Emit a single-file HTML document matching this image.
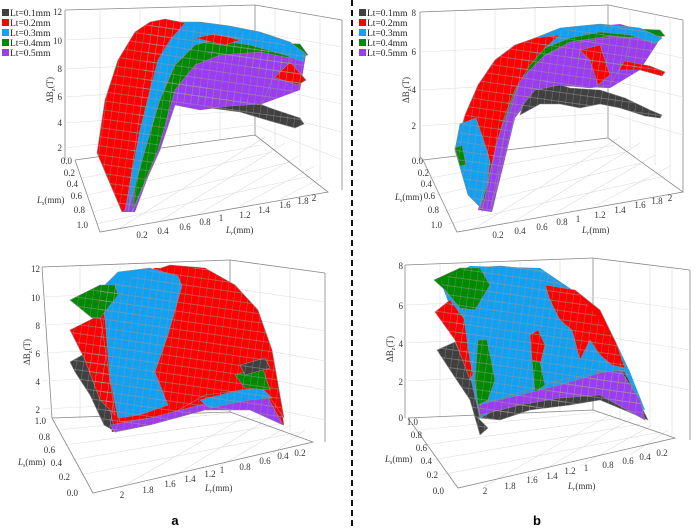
<!DOCTYPE html>
<html><head><meta charset="utf-8"><style>
html,body{margin:0;padding:0;background:#fff;}
svg{display:block;font-family:"Liberation Serif",serif;}
.t{font-size:9px;fill:#333;}
.lg{font-size:9.5px;fill:#222;}
.g{stroke:#ddd;stroke-width:0.6;fill:none;}
.ax{stroke:#888;stroke-width:0.8;fill:none;}
.s{stroke:#888;stroke-width:0.6;}
</style></head><body>
<svg width="700" height="530" viewBox="0 0 700 530" xmlns="http://www.w3.org/2000/svg">
<defs>
<pattern id="m" width="7" height="9" patternUnits="userSpaceOnUse" patternTransform="rotate(8)">
<path d="M0 0V9M0 4.5H7" stroke="#999" stroke-width="0.6" fill="none"/>
</pattern>
</defs>

<!-- ============ TOP A ============ -->
<g>
<path class="ax" d="M65 10L255 5L342 20M65 10V160M255 5V135M342 20V190"/>
<path class="g" d="M65 40L255 32L342 47M65 69L255 60L342 76M65 97L255 85L342 104M65 123L255 110L342 132M65 148L255 125L342 160"/>
<path class="g" d="M100 9V157M140 8V153M180 7V148M220 6V142M275 9V150M300 13V166M320 16V178"/>
<path class="g" d="M82 178L262 145M88 195L272 152M93 212L290 162M96 224L310 176M120 228L265 137M160 221L285 143M200 213L300 155M240 206L315 166M280 199L322 178"/>
<path class="ax" d="M75 160L100 232L328 192L255 135M75 160L255 135"/>
<g class="s">
<polygon fill="#9b3cf0" stroke="none" points="122,212 150,22 260,33 306,54 300,90 262,104 175,105 135,212"/>
<polygon fill="#404040" points="160,75 180,78 210,88 240,96 270,108 300,118 304,124 295,128 270,121 240,112 210,108 185,102 168,100"/>
<polygon fill="#ff0000" points="195,35 230,34 262,48 292,64 306,80 298,85 270,76 240,62 210,56"/>
<polygon fill="#9b3cf0" points="180,70 200,58 240,52 280,52 292,60 272,80 262,104 230,106 200,110 175,105 160,150 132,212 150,150 165,100"/>
<polygon fill="#008a00" points="170,45 200,38 240,42 300,44 308,55 290,58 260,52 220,55 195,65 175,90 158,150 132,212 140,150 150,100"/>
<polygon fill="#14a0f0" points="165,22 200,22 230,26 260,32 290,42 306,54 303,62 285,55 250,45 215,40 195,45 175,65 160,100 145,150 128,212 135,140 148,90 158,55"/>
<polygon fill="#ff0000" points="97,153 105,100 118,60 135,32 150,22 165,19 185,23 170,40 158,60 150,90 140,130 125,210 122,212"/>
<polygon fill="#ff0000" points="195,38 215,34 240,40 225,45"/>
</g>
<g fill="url(#m)" stroke="none">
<polygon points="160,75 180,78 210,88 240,96 270,108 300,118 304,124 295,128 270,121 240,112 210,108 185,102 168,100"/>
<polygon points="195,35 230,34 262,48 292,64 306,80 298,85 270,76 240,62 210,56"/>
<polygon points="122,212 150,22 260,33 306,54 300,90 262,104 175,105 135,212"/>
<polygon points="97,153 105,100 118,60 135,32 150,22 165,19 185,23 170,40 158,60 150,90 140,130 125,210 122,212"/>
</g>
<g class="t" text-anchor="end">
<text x="62" y="15">12</text><text x="62" y="44">10</text><text x="62" y="72">8</text><text x="62" y="100">6</text><text x="62" y="126">4</text><text x="62" y="151">2</text><text x="72" y="164">0.0</text>
<text x="75" y="176">0.2</text><text x="78" y="187">0.4</text><text x="82" y="199">0.6</text><text x="85" y="213">0.8</text><text x="88" y="228">1.0</text>
</g>
<g class="t" text-anchor="middle">
<text x="142" y="238">0.2</text><text x="163" y="234">0.4</text><text x="185" y="230">0.6</text><text x="205" y="225">0.8</text><text x="221" y="221">1</text><text x="245" y="218">1.2</text><text x="264" y="213">1.4</text><text x="285" y="208">1.6</text><text x="303" y="204">1.8</text><text x="314" y="201">2</text>
</g>
<text class="t" x="37" y="203" font-style="italic">L<tspan font-size="6" dy="2">s</tspan><tspan dy="-2" font-style="normal">(mm)</tspan></text>
<text class="t" x="226" y="233" font-style="italic">L<tspan font-size="6" dy="2">r</tspan><tspan dy="-2" font-style="normal">(mm)</tspan></text>
<text class="t" transform="translate(53,103) rotate(-90)">ΔB<tspan font-size="6" dy="2">z</tspan><tspan dy="-2">(T)</tspan></text>
</g>

<!-- legends -->
<g class="lg">
<rect x="2" y="9" width="7" height="7" fill="#404040"/><text x="10" y="16">Lt=0.1mm</text>
<rect x="2" y="19" width="7" height="7" fill="#ff0000"/><text x="10" y="26">Lt=0.2mm</text>
<rect x="2" y="29" width="7" height="7" fill="#14a0f0"/><text x="10" y="36">Lt=0.3mm</text>
<rect x="2" y="39" width="7" height="7" fill="#008a00"/><text x="10" y="46">Lt=0.4mm</text>
<rect x="2" y="49" width="7" height="7" fill="#9b3cf0"/><text x="10" y="56">Lt=0.5mm</text>
<rect x="359" y="9" width="7" height="7" fill="#404040"/><text x="367" y="16">Lt=0.1mm</text>
<rect x="359" y="19" width="7" height="7" fill="#ff0000"/><text x="367" y="26">Lt=0.2mm</text>
<rect x="359" y="29" width="7" height="7" fill="#14a0f0"/><text x="367" y="36">Lt=0.3mm</text>
<rect x="359" y="39" width="7" height="7" fill="#008a00"/><text x="367" y="46">Lt=0.4mm</text>
<rect x="359" y="49" width="7" height="7" fill="#9b3cf0"/><text x="367" y="56">Lt=0.5mm</text>
</g>

<!-- ============ BOTTOM A ============ -->
<g>
<path class="ax" d="M42 267L230 260L325 273M42 267L52 418M230 260V412M325 273V442"/>
<path class="g" d="M42 297L230 288L325 302M42 325L230 316L325 331M42 353L230 344L325 361M42 381L230 372L325 390M42 409L230 400L325 420"/>
<path class="g" d="M80 266V420M120 264V420M160 262V418M200 261V414M260 264V425M290 268V432"/>
<path class="g" d="M58 430L240 412M65 445L260 418M72 460L280 424M80 475L300 432M120 488L250 414M170 478L270 418M220 466L290 425M270 455L305 430"/>
<path class="ax" d="M52 418L93 493L313 442L230 412M52 418L230 412"/>
<g class="s">
<polygon fill="#ff0000" stroke="none" points="100,290 155,268 205,268 235,285 258,310 272,350 284,425 250,410 205,410 150,425 112,432 100,380"/>
<polygon fill="#404040" points="70,362 100,345 112,420 116,432 104,425 90,395 75,372"/>
<polygon fill="#ff0000" points="70,330 100,315 110,380 115,415 100,400 85,360"/>
<polygon fill="#ff0000" points="155,270 170,265 205,268 235,285 258,310 272,350 284,418 268,395 245,390 205,395 175,412 150,418 120,422 112,380 115,345 130,300"/>
<polygon fill="#9b3cf0" points="110,425 150,418 200,405 240,392 265,392 283,425 250,410 205,410 150,425 115,432"/>
<polygon fill="#14a0f0" points="100,290 118,272 150,268 178,276 182,286 168,335 155,372 168,405 140,415 118,418 110,378 105,318"/>
<polygon fill="#008a00" points="70,300 100,285 115,285 118,295 100,318 92,318"/>
<polygon fill="#14a0f0" points="200,400 240,390 262,388 272,398 250,400 210,408"/>
<polygon fill="#008a00" points="235,375 262,366 270,390 245,388"/>
<polygon fill="#404040" points="240,365 265,358 270,368 245,375"/>
</g>
<g fill="url(#m)" stroke="none">
<polygon points="70,362 100,345 112,420 116,432 104,425 90,395 75,372"/>
<polygon points="100,290 155,268 205,268 235,285 258,310 272,350 284,425 250,410 205,410 150,425 112,432 100,380"/>
<polygon points="70,300 100,285 115,285 118,295 100,318 92,318"/>
<polygon points="70,330 100,315 110,380 115,415 100,400 85,360"/>
</g>
<g class="t" text-anchor="end">
<text x="40" y="272">12</text><text x="40" y="301">10</text><text x="40" y="329">8</text><text x="40" y="357">6</text><text x="40" y="385">4</text><text x="40" y="413">2</text>
<text x="46" y="424">1.0</text><text x="50" y="440">0.8</text><text x="55" y="453">0.6</text><text x="62" y="466">0.4</text><text x="70" y="480">0.2</text><text x="78" y="496">0.0</text>
</g>
<g class="t" text-anchor="middle">
<text x="122" y="498">2</text><text x="148" y="493">1.8</text><text x="170" y="487">1.6</text><text x="190" y="482">1.4</text><text x="210" y="477">1.2</text><text x="222" y="473">1</text><text x="245" y="470">0.8</text><text x="265" y="464">0.6</text><text x="283" y="459">0.4</text><text x="300" y="456">0.2</text>
</g>
<text class="t" x="18" y="465" font-style="italic">L<tspan font-size="6" dy="2">s</tspan><tspan dy="-2" font-style="normal">(mm)</tspan></text>
<text class="t" x="205" y="491" font-style="italic">L<tspan font-size="6" dy="2">r</tspan><tspan dy="-2" font-style="normal">(mm)</tspan></text>
<text class="t" transform="translate(30,365) rotate(-90)">ΔB<tspan font-size="6" dy="2">z</tspan><tspan dy="-2">(T)</tspan></text>
<text x="175" y="525" font-family="Liberation Sans,sans-serif" font-weight="bold" font-size="13" text-anchor="middle">a</text>
</g>

<!-- divider -->
<line x1="352" y1="0" x2="352" y2="530" stroke="#111" stroke-width="2" stroke-dasharray="6,4"/>

<!-- ============ TOP B ============ -->
<g>
<path class="ax" d="M420 12L608 5L683 20M420 12V160M608 5V138M683 20V192"/>
<path class="g" d="M420 52L608 43L683 58M420 90L608 80L683 97M420 126L608 113L683 135"/>
<path class="g" d="M455 11V158M495 10V154M535 8V150M575 7V145M630 9V150M655 13V166M670 16V180"/>
<path class="g" d="M430 178L615 145M436 195L625 152M442 212L645 162M448 224L665 176M475 228L620 137M515 221L640 143M555 213L655 155M595 206L670 166"/>
<path class="ax" d="M423 160L457 232L683 192L608 138M423 160L608 138"/>
<g class="s">
<polygon fill="#9b3cf0" stroke="none" points="478,210 500,120 520,60 560,30 620,24 662,36 640,70 610,88 560,86 535,92 515,118 492,212"/>
<polygon fill="#404040" points="528,85 545,80 570,88 600,90 625,98 650,110 662,115 660,118 645,116 620,108 600,104 580,108 560,104 540,104 520,115"/>
<polygon fill="#ff0000" points="560,50 590,52 620,60 650,66 665,72 662,76 640,70 610,70 580,66"/>
<polygon fill="#9b3cf0" points="520,80 540,58 570,44 610,38 630,38 625,60 610,85 590,88 560,85 535,90 515,115 490,212 505,130"/>
<polygon fill="#ff0000" points="580,50 600,45 610,75 598,85 590,60"/>
<polygon fill="#008a00" points="510,70 535,50 570,36 620,28 660,30 665,36 640,38 610,36 570,42 545,55 520,80 497,140 482,212 492,130"/>
<polygon fill="#14a0f0" points="530,40 560,28 600,24 640,28 662,38 655,44 630,35 600,32 570,38 545,48 522,64"/>
<polygon fill="#ff0000" points="455,150 465,115 478,85 495,60 515,45 535,38 560,35 545,48 530,65 515,90 505,115 495,150 487,185 480,207 470,195"/>
<polygon fill="#14a0f0" points="455,150 460,124 476,118 487,150 490,162 487,185 480,207 468,195"/>
<polygon fill="#008a00" points="455,148 462,145 466,165 460,166"/>
</g>
<g fill="url(#m)" stroke="none">
<polygon points="528,85 545,80 570,88 600,90 625,98 650,110 662,115 660,118 645,116 620,108 600,104 580,108 560,104 540,104 520,115"/>
<polygon points="478,210 500,120 520,60 560,30 620,24 662,36 640,70 610,88 560,86 535,92 515,118 492,212"/>
<polygon points="455,150 465,115 478,85 495,60 515,45 535,38 560,35 545,48 530,65 515,90 505,115 495,150 487,185 480,207 470,195"/>
<polygon points="560,50 590,52 620,60 650,66 665,72 662,76 640,70 610,70 580,66"/>
</g>
<g class="t" text-anchor="end">
<text x="416" y="16">8</text><text x="416" y="55">6</text><text x="416" y="93">4</text><text x="416" y="129">2</text><text x="423" y="164">0.0</text>
<text x="429" y="176">0.2</text><text x="432" y="187">0.4</text><text x="435" y="199">0.6</text><text x="439" y="213">0.8</text><text x="442" y="228">1.0</text>
</g>
<g class="t" text-anchor="middle">
<text x="498" y="238">0.2</text><text x="520" y="234">0.4</text><text x="542" y="230">0.6</text><text x="562" y="225">0.8</text><text x="578" y="222">1</text><text x="600" y="218">1.2</text><text x="620" y="213">1.4</text><text x="640" y="208">1.6</text><text x="657" y="204">1.8</text><text x="670" y="201">2</text>
</g>
<text class="t" x="395" y="200" font-style="italic">L<tspan font-size="6" dy="2">s</tspan><tspan dy="-2" font-style="normal">(mm)</tspan></text>
<text class="t" x="582" y="233" font-style="italic">L<tspan font-size="6" dy="2">r</tspan><tspan dy="-2" font-style="normal">(mm)</tspan></text>
<text class="t" transform="translate(409,103) rotate(-90)">ΔB<tspan font-size="6" dy="2">z</tspan><tspan dy="-2">(T)</tspan></text>
</g>

<!-- ============ BOTTOM B ============ -->
<g>
<path class="ax" d="M405 265L593 258L690 270M405 265V418M593 258V410M690 270V440"/>
<path class="g" d="M405 305L593 297L690 310M405 343L593 335L690 350M405 381L593 372L690 390"/>
<path class="g" d="M440 264V418M480 263V418M520 262V415M560 260V412M620 262V420M650 265V428M672 268V435"/>
<path class="g" d="M418 430L600 412M424 445L620 418M432 460L640 424M440 475L660 432M485 486L612 414M530 478L632 418M580 466L652 425M630 455L668 430"/>
<path class="ax" d="M408 418L458 488L675 438L593 410M408 418L593 410"/>
<g class="s">
<polygon fill="#14a0f0" stroke="none" points="440,280 470,266 540,268 580,295 615,340 630,372 645,410 600,395 530,410 480,418 470,380 455,320"/>
<polygon fill="#404040" points="437,350 455,342 470,375 480,418 495,410 530,400 560,385 600,375 625,372 648,420 600,400 570,405 530,410 500,420 478,418 488,428 480,435 470,400 450,370"/>
<polygon fill="#ff0000" points="435,312 450,300 465,320 475,370 470,380 455,340"/>
<polygon fill="#9b3cf0" points="478,405 520,395 560,385 600,373 620,370 640,400 645,420 600,395 560,398 520,405 480,415"/>
<polygon fill="#14a0f0" points="470,268 500,266 540,270 560,285 580,300 600,320 615,345 625,370 600,372 560,380 520,392 480,405 470,360 462,305 452,285 440,280"/>
<polygon fill="#ff0000" points="545,285 575,290 600,310 617,345 625,368 612,365 600,355 590,340 580,360 572,330 560,320 550,300"/>
<polygon fill="#ff0000" points="530,335 538,330 545,345 540,365 532,360"/>
<polygon fill="#008a00" points="434,280 460,268 480,268 490,285 475,310 460,308 445,290"/>
<polygon fill="#008a00" points="478,340 487,340 495,380 488,400 478,405 475,380"/>
<polygon fill="#008a00" points="532,360 540,362 545,385 535,392"/>
</g>
<g fill="url(#m)" stroke="none">
<polygon points="437,350 455,342 470,375 480,418 495,410 530,400 560,385 600,375 625,372 648,420 600,400 570,405 530,410 500,420 478,418 488,428 480,435 470,400 450,370"/>
<polygon points="440,280 470,266 540,268 580,295 615,340 630,372 645,410 600,395 530,410 480,418 470,380 455,320"/>
<polygon points="435,312 450,300 465,320 475,370 470,380 455,340"/>
</g>
<g class="t" text-anchor="end">
<text x="403" y="269">8</text><text x="403" y="309">6</text><text x="403" y="347">4</text><text x="403" y="385">2</text><text x="403" y="421">0</text>
<text x="418" y="425">1.0</text><text x="422" y="438">0.8</text><text x="427" y="451">0.6</text><text x="432" y="464">0.4</text><text x="438" y="478">0.2</text><text x="444" y="494">0.0</text>
</g>
<g class="t" text-anchor="middle">
<text x="485" y="494">2</text><text x="510" y="489">1.8</text><text x="532" y="483">1.6</text><text x="552" y="479">1.4</text><text x="570" y="474">1.2</text><text x="586" y="471">1</text><text x="608" y="468">0.8</text><text x="628" y="464">0.6</text><text x="645" y="460">0.4</text><text x="662" y="456">0.2</text>
</g>
<text class="t" x="385" y="462" font-style="italic">L<tspan font-size="6" dy="2">s</tspan><tspan dy="-2" font-style="normal">(mm)</tspan></text>
<text class="t" x="568" y="489" font-style="italic">L<tspan font-size="6" dy="2">r</tspan><tspan dy="-2" font-style="normal">(mm)</tspan></text>
<text class="t" transform="translate(393,362) rotate(-90)">ΔB<tspan font-size="6" dy="2">z</tspan><tspan dy="-2">(T)</tspan></text>
<text x="537" y="525" font-family="Liberation Sans,sans-serif" font-weight="bold" font-size="13" text-anchor="middle">b</text>
</g>
</svg>
</body></html>
